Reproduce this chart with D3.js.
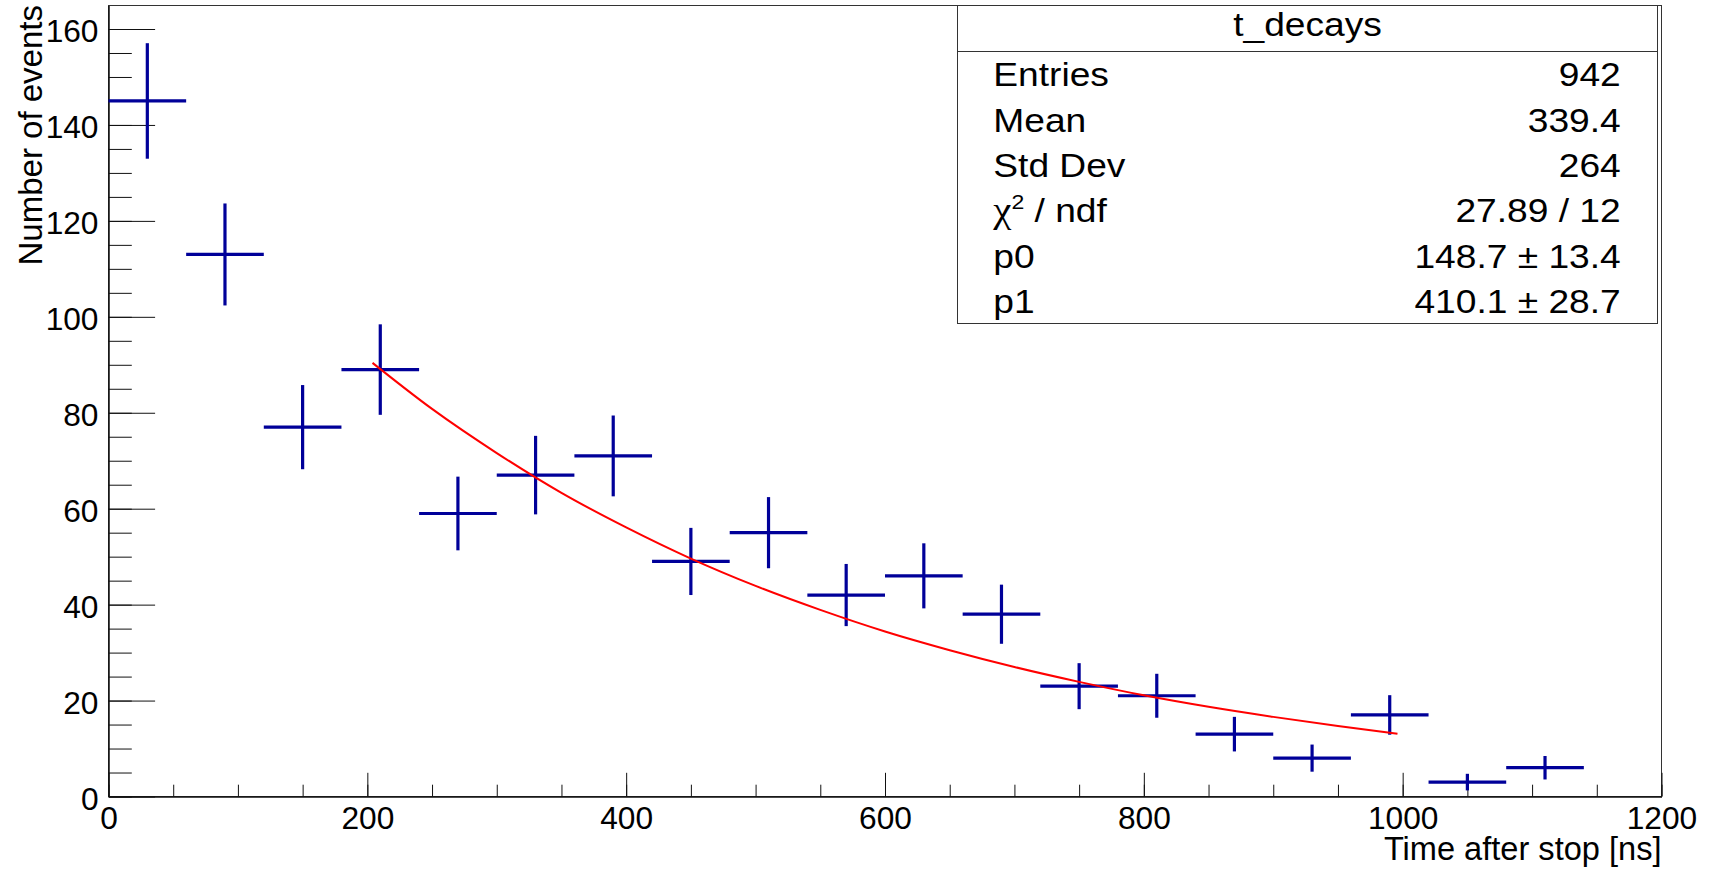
<!DOCTYPE html>
<html>
<head>
<meta charset="utf-8">
<script src="https://cdn.jsdelivr.net/npm/d3@7"></script>
<style>
  html, body { margin: 0; padding: 0; background: #fff; }
  svg { display: block; font-family: "Liberation Sans", Arial, sans-serif; }
  .axis path, .axis line { stroke: #111; }
  .axis text { font-size: 31.7px; fill: #000; font-family: "Liberation Sans", Arial, sans-serif; }
</style>
</head>
<body>
<svg id="chart" width="1718" height="869"></svg>
<script>
const binLow = [0, 60, 120, 180, 240, 300, 360, 420, 480, 540, 600, 660, 720, 780, 840, 900, 960, 1020, 1080];
const binCounts = [145, 113, 77, 89, 59, 67, 71, 49, 55, 42, 46, 38, 23, 21, 13, 8, 17, 3, 6];
const binWidth = 60;

// fitted exponential
const fitTimes = [204, 250, 300, 350, 400, 450, 500, 550, 600, 650, 700, 750, 800, 850, 900, 950, 996];
const fitValues = [90.4, 80.8, 71.6, 63.3, 56.1, 49.6, 43.9, 38.9, 34.4, 30.5, 27.0, 23.9, 21.1, 18.7, 16.6, 14.7, 13.1];

const xTicks = [0, 200, 400, 600, 800, 1000, 1200];
const yTicks = [0, 20, 40, 60, 80, 100, 120, 140, 160];

const statTitle = "t_decays";
const statLabels = ["Entries", "Mean", "Std Dev", "χ² / ndf", "p0", "p1"];
const statValues = ["942", "339.4", "264", "27.89 / 12", "148.7 ± 13.4", "410.1 ± 28.7"];

const frame = { left: 108.5, right: 1661.5, top: 5.5, bottom: 796.5 };
const statBox = { left: 957.5, right: 1657.5, top: 5.5, bottom: 323.5, titleBottom: 51.5 };
const statFont = 32.6;
const statStretch = 1.14;

const svg = d3.select("#chart");

const x = d3.scaleLinear().domain([0, 1200]).range([frame.left, frame.right]);
const y = d3.scaleLinear().domain([0, 164.9]).range([frame.bottom, frame.top]);

svg.append("rect")
  .attr("x", frame.left)
  .attr("y", frame.top)
  .attr("width", frame.right - frame.left)
  .attr("height", frame.bottom - frame.top)
  .attr("fill", "none")
  .attr("stroke", "#333")
  .attr("stroke-width", 1);

// y axis: minor ticks every 5, major every 20, all pointing inside
svg.append("g")
  .attr("class", "axis")
  .attr("transform", `translate(${frame.left},0)`)
  .call(d3.axisLeft(y).tickValues(d3.range(0, 165, 5)).tickSizeInner(-23.3).tickSizeOuter(0).tickFormat(""));

const yAxis = svg.append("g")
  .attr("class", "axis")
  .attr("transform", `translate(${frame.left},0)`)
  .call(d3.axisLeft(y).tickValues(yTicks).tickSizeInner(-46.6).tickSizeOuter(0).tickPadding(10).tickFormat(d3.format("d")));
yAxis.selectAll("text").attr("dy", "0.4em");

svg.append("g")
  .attr("class", "axis")
  .attr("transform", `translate(0,${frame.bottom})`)
  .call(d3.axisBottom(x).tickValues(d3.range(0, 1201, 50)).tickSizeInner(-11.8).tickSizeOuter(0).tickFormat(""));

svg.append("g")
  .attr("class", "axis")
  .attr("transform", `translate(0,${frame.bottom})`)
  .call(d3.axisBottom(x).tickValues(xTicks).tickSizeInner(-23.7).tickSizeOuter(0).tickPadding(10).tickFormat(d3.format("d")));

// axis titles
svg.append("text")
  .attr("x", frame.right)
  .attr("y", 860)
  .attr("text-anchor", "end")
  .attr("font-size", 32.6)
  .text("Time after stop [ns]");

svg.append("text")
  .attr("transform", "translate(42,5) rotate(-90)")
  .attr("text-anchor", "end")
  .attr("font-size", 33)
  .text("Number of events");

// histogram drawn with error crosses
const bins = binCounts.map((count, i) => ({
  low: binLow[i],
  count,
  err: Math.sqrt(count)
}));

const crosses = svg.append("g")
  .attr("stroke", "#000099")
  .attr("stroke-width", 3.2);

crosses.selectAll("line.hbar")
  .data(bins)
  .join("line")
  .attr("class", "hbar")
  .attr("x1", (d) => x(d.low))
  .attr("x2", (d) => x(d.low + binWidth))
  .attr("y1", (d) => y(d.count))
  .attr("y2", (d) => y(d.count));

crosses.selectAll("line.vbar")
  .data(bins)
  .join("line")
  .attr("class", "vbar")
  .attr("x1", (d) => x(d.low + binWidth / 2))
  .attr("x2", (d) => x(d.low + binWidth / 2))
  .attr("y1", (d) => y(d.count - d.err))
  .attr("y2", (d) => y(d.count + d.err));

const fitLine = d3.line()
  .x((d, i) => x(fitTimes[i]))
  .y((d) => y(d))
  .curve(d3.curveMonotoneX);

svg.append("path")
  .attr("d", fitLine(fitValues))
  .attr("fill", "none")
  .attr("stroke", "#ff0000")
  .attr("stroke-width", 2);

// stats box
const stats = svg.append("g");

stats.append("rect")
  .attr("x", statBox.left)
  .attr("y", statBox.top)
  .attr("width", statBox.right - statBox.left)
  .attr("height", statBox.bottom - statBox.top)
  .attr("fill", "#fff")
  .attr("stroke", "#333")
  .attr("stroke-width", 1);

stats.append("line")
  .attr("x1", statBox.left)
  .attr("x2", statBox.right)
  .attr("y1", statBox.titleBottom)
  .attr("y2", statBox.titleBottom)
  .attr("stroke", "#333")
  .attr("stroke-width", 1);

function stretchedText(px, py, anchor) {
  return stats.append("g")
    .attr("transform", `translate(${px},${py}) scale(${statStretch},1)`)
    .append("text")
    .attr("text-anchor", anchor)
    .attr("font-size", statFont);
}

stretchedText((statBox.left + statBox.right) / 2, 36, "middle").text(statTitle);

const rowHeight = (statBox.bottom - statBox.titleBottom) / statLabels.length;

statLabels.forEach((label, i) => {
  const baseline = statBox.titleBottom + rowHeight * (i + 0.5) + 12;
  const t = stretchedText(993.3, baseline, "start");
  if (label.includes("²")) {
    const [head, tail] = label.split("²");
    t.append("tspan").attr("font-family", "'Liberation Serif', 'DejaVu Serif', serif").attr("font-size", statFont * 1.1).text(head);
    t.append("tspan").attr("font-size", statFont * 0.62).attr("dy", -13).text("2");
    t.append("tspan").attr("dy", 13).text(tail);
  } else {
    t.text(label);
  }
  stretchedText(1620.7, baseline, "end").text(statValues[i]);
});
</script>
</body>
</html>
